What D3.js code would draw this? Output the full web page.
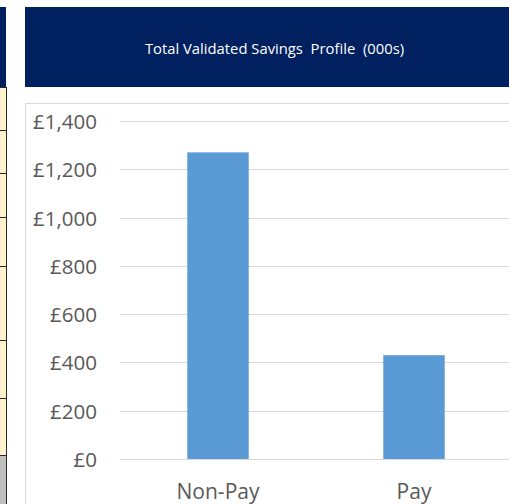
<!DOCTYPE html>
<html>
<head>
<meta charset="utf-8">
<script src="https://cdn.jsdelivr.net/npm/d3@7"></script>
<style>
  body { margin: 0; background: #fff; }
  svg { display: block; }
</style>
</head>
<body>
<svg id="chart" width="509" height="504"></svg>
<script>
// data
const categories = ['Non-Pay', 'Pay'];
const savings = [1270, 430];
const yTicks = [0, 200, 400, 600, 800, 1000, 1200, 1400];
const title = 'Total Validated Savings\u00a0 Profile\u00a0 (000s)';

// spreadsheet strip on the left (row edges)
const rowEdges = [87, 130, 173, 217, 266, 340, 398, 455];

const svg = d3.select('#chart');

// left strip of cells
const strip = svg.append('g').attr('class', 'strip');
strip.append('rect').attr('x', 0).attr('y', 7).attr('width', 6).attr('height', 80).attr('fill', '#002060');
strip.append('rect').attr('x', 0).attr('y', 87).attr('width', 6).attr('height', 368).attr('fill', '#FFF2CC');
strip.append('rect').attr('x', 0).attr('y', 455).attr('width', 6).attr('height', 49).attr('fill', '#BFBFBF');
strip.selectAll('line.row')
     .data(rowEdges)
     .join('line')
     .attr('class', 'row')
     .attr('x1', 0).attr('x2', 7)
     .attr('y1', d => d + 0.5).attr('y2', d => d + 0.5)
     .attr('stroke', '#262626').attr('stroke-width', 1);
strip.append('line')
     .attr('x1', 6.5).attr('x2', 6.5).attr('y1', 87).attr('y2', 504)
     .attr('stroke', '#262626').attr('stroke-width', 1);

// title banner
svg.append('rect').attr('x', 25).attr('y', 7).attr('width', 490).attr('height', 80).attr('fill', '#002060');
svg.append('text')
   .attr('x', 274.5).attr('y', 48)
   .attr('text-anchor', 'middle')
   .attr('dominant-baseline', 'central')
   .attr('font-family', 'Open Sans, sans-serif')
   .attr('font-size', 14.8)
   .attr('fill', '#ffffff')
   .text(title);

// chart area border
svg.append('rect')
   .attr('x', 25.5).attr('y', 103.5).attr('width', 500).attr('height', 420)
   .attr('fill', 'none').attr('stroke', '#D9D9D9').attr('stroke-width', 1);

// scales
const yScale = d3.scaleLinear().domain([0, 1400]).range([459, 121]);
const xScale = d3.scaleBand().domain(categories).range([120, 512]);
const barWidth = xScale.bandwidth() / 3.19;

const fmt = v => '£' + d3.format(',')(v);

// gridlines
const grid = svg.append('g').attr('class', 'grid');
grid.selectAll('line')
    .data(yTicks)
    .join('line')
    .attr('x1', 120).attr('x2', 509)
    .attr('y1', d => Math.round(yScale(d)) + 0.5)
    .attr('y2', d => Math.round(yScale(d)) + 0.5)
    .attr('stroke', '#D9D9D9').attr('stroke-width', 1);

// y tick labels
svg.append('g').attr('class', 'ylabels')
   .selectAll('text')
   .data(yTicks)
   .join('text')
   .attr('x', 97)
   .attr('y', d => yScale(d))
   .attr('text-anchor', 'end')
   .attr('dominant-baseline', 'central')
   .attr('font-family', 'Open Sans, sans-serif')
   .attr('font-size', 20.5)
   .attr('fill', '#595959')
   .text(fmt);

// bars
svg.append('g').attr('class', 'bars')
   .selectAll('rect')
   .data(categories)
   .join('rect')
   .attr('x', d => xScale(d) + xScale.bandwidth() / 2 - barWidth / 2)
   .attr('y', (d, i) => yScale(savings[i]))
   .attr('width', barWidth)
   .attr('height', (d, i) => yScale(0) - yScale(savings[i]))
   .attr('fill', '#5B9BD5');

// category labels
svg.append('g').attr('class', 'xlabels')
   .selectAll('text')
   .data(categories)
   .join('text')
   .attr('x', d => xScale(d) + xScale.bandwidth() / 2)
   .attr('y', 499)
   .attr('text-anchor', 'middle')
   .attr('font-family', 'Open Sans, sans-serif')
   .attr('font-size', 21)
   .attr('fill', '#595959')
   .text(d => d);
</script>
</body>
</html>
